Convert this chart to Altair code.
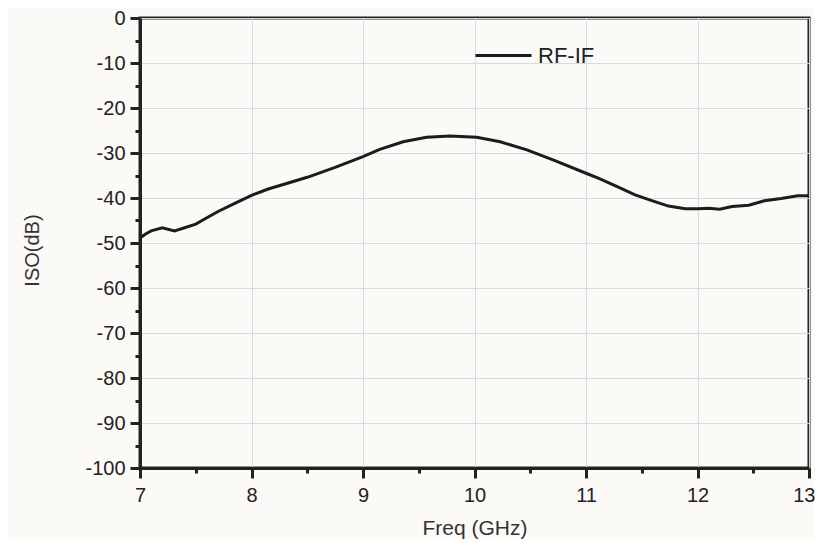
import altair as alt
import pandas as pd

freq = [7.00, 7.05, 7.10, 7.20, 7.31, 7.40, 7.50, 7.60, 7.70, 7.85, 8.00, 8.15, 8.30, 8.50,
        8.75, 9.00, 9.15, 9.36, 9.57, 9.78, 10.02, 10.23, 10.47, 10.71, 11.00, 11.11, 11.29,
        11.44, 11.59, 11.74, 11.89, 12.01, 12.10, 12.20, 12.31, 12.46, 12.60, 12.75, 12.90, 13.00]
iso = [-48.9, -48.0, -47.3, -46.6, -47.3, -46.6, -45.8, -44.4, -43.0, -41.2, -39.4, -38.0, -36.9, -35.4,
       -33.2, -30.8, -29.2, -27.5, -26.5, -26.2, -26.5, -27.5, -29.3, -31.6, -34.5, -35.6, -37.6,
       -39.3, -40.6, -41.8, -42.4, -42.4, -42.3, -42.5, -41.9, -41.6, -40.6, -40.1, -39.5, -39.5]
series = ["RF-IF"] * len(freq)

x_major = [7, 8, 9, 10, 11, 12, 13]
x_minor = [7.5, 8.5, 9.5, 10.5, 11.5, 12.5]
y_major = [0, -10, -20, -30, -40, -50, -60, -70, -80, -90, -100]
y_minor = [-5, -15, -25, -35, -45, -55, -65, -75, -85, -95]

df = pd.DataFrame({"freq": freq, "iso": iso, "series": series})

FONT = "Liberation Sans"
INK = "#222222"

xs = alt.Scale(domain=[7, 13], nice=False, zero=False)
ys = alt.Scale(domain=[-100, 0], nice=False, zero=False)

main = alt.Chart(df).mark_line(strokeWidth=3).encode(
    x=alt.X("freq:Q", scale=xs, axis=alt.Axis(
        orient="bottom", values=x_major, title="Freq (GHz)", grid=True,
        gridColor="#d6dae2", gridWidth=1, labelFontSize=20, labelColor=INK,
        labelFont=FONT, labelPadding=7, tickSize=10, tickWidth=3, tickColor=INK,
        domainColor=INK, domainWidth=3, titleFont=FONT, titleFontSize=21,
        titleFontWeight="normal", titleColor="#333333", titleY=66,
        titleBaseline="alphabetic", labelFlush=False, labelExpr="'' + datum.value",
        labelAlign=alt.condition("datum.value == 13", alt.value("right"), alt.value("center")),
        labelOffset=alt.condition("datum.value == 13", alt.value(6), alt.value(0)))),
    y=alt.Y("iso:Q", scale=ys, axis=alt.Axis(
        orient="left", values=y_major, title="ISO(dB)", grid=True,
        gridColor="#d6dae2", gridWidth=1, labelFontSize=20, labelColor=INK,
        labelFont=FONT, labelPadding=5, tickSize=10, tickWidth=3, tickColor=INK,
        domainColor=INK, domainWidth=3, titleFont=FONT, titleFontSize=20,
        titleFontWeight="normal", titleColor="#333333", titleX=-102, titleY=232,
        titleBaseline="alphabetic", titleAngle=270, labelFlush=False,
        labelExpr="'' + datum.value")),
    color=alt.Color("series:N", scale=alt.Scale(range=["#1c1c1c"]), legend=alt.Legend(
        orient="none", legendX=334, legendY=8, title=None, symbolType="stroke",
        symbolSize=3136, symbolStrokeWidth=3, labelFontSize=22, labelFont=FONT,
        labelColor=INK, labelOffset=5, padding=0)),
)

minor = alt.Chart(df).mark_line(opacity=0).encode(
    x=alt.X("freq:Q", scale=xs, axis=alt.Axis(
        orient="bottom", values=x_minor, title=None, grid=False, labels=False,
        domain=False, tickSize=5, tickWidth=3, tickColor=INK)),
    y=alt.Y("iso:Q", scale=ys, axis=alt.Axis(
        orient="left", values=y_minor, title=None, grid=False, labels=False,
        domain=False, tickSize=5, tickWidth=3, tickColor=INK)),
)

chart = alt.layer(main, minor).resolve_axis(x="independent", y="independent").properties(
    width=669, height=450,
    autosize=alt.AutoSizeParams(type="none"),
    padding={"left": 132, "top": 10, "right": 6, "bottom": 71},
    background="#fcfaf7",
).configure_view(stroke=INK, strokeWidth=3)

chart.save("out.html", embed_options={"renderer": "svg", "actions": False})
